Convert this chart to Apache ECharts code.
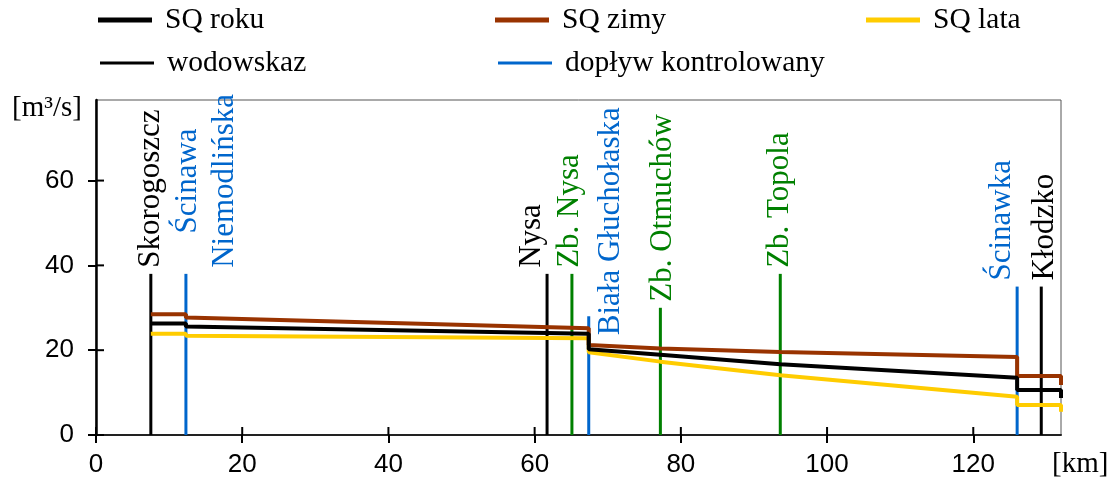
<!DOCTYPE html>
<html>
<head>
<meta charset="utf-8">
<script src="https://cdn.jsdelivr.net/npm/echarts@6/dist/echarts.min.js"></script>
<style>
html, body {margin: 0; padding: 0; background: #fff;}
#chart {width: 1118px; height: 482px;}
</style>
</head>
<body>
<div id="chart"></div>
<script>
// przepływy SQ wzdłuż biegu rzeki [km]
var kmPoints = [7.5, 12.3, 12.3, 67.4, 67.4, 77.2, 93.6, 126, 126, 132, 132];
var sqRoku   = [26.3, 26.3, 25.6, 23.9, 20.2, 18.9, 16.7, 13.5, 10.6, 10.6, 8.7];
var sqZimy   = [28.5, 28.5, 27.7, 25.2, 21.2, 20.4, 19.6, 18.4, 13.9, 13.9, 11.8];
var sqLata   = [23.9, 23.9, 23.4, 22.8, 19.5, 17.3, 14.1, 9.0, 7.1, 7.1, 5.5];

// wodowskazy, dopływy i zbiorniki
var stationNames = ['Skorogoszcz', 'Ścinawa\nNiemodlińska', 'Nysa', 'Zb. Nysa', 'Biała Głuchołaska',
                    'Zb. Otmuchów', 'Zb. Topola', 'Ścinawka', 'Kłodzko'];
var stationKm   = [7.5, 12.3, 61.7, 65.1, 67.4, 77.2, 93.6, 126.0, 129.3];
var stationTop  = [38, 38, 38, 38, 28, 30, 38, 35, 35];
var stationType = ['wodowskaz', 'dopływ', 'wodowskaz', 'zbiornik', 'dopływ',
                   'zbiornik', 'zbiornik', 'dopływ', 'wodowskaz'];

var xTicks = [0, 20, 40, 60, 80, 100, 120];
var yTicks = [0, 20, 40, 60];

var SERIF = '"Liberation Serif", "Times New Roman", serif';
var SANS = '"Liberation Sans", Arial, sans-serif';
var LABEL_SIZE = 31;
var LINE_H = 37;
var TICK_IN = 8;

// przesunięcia podpisów względem linii
var labelNudge = {
  'Ścinawa\nNiemodlińska': {dx: 2},
  'Nysa': {dx: -15},
  'Zb. Nysa': {dx: -2},
  'Biała Głuchołaska': {dx: 22, gap: -19},
  'Zb. Otmuchów': {dx: 2},
  'Ścinawka': {dx: -15},
  'Kłodzko': {dx: 4}
};

var ctx = document.createElement('canvas').getContext('2d');
ctx.font = LABEL_SIZE + 'px ' + SERIF;
function textLen(s) {
  return Math.max.apply(null, s.split('\n').map(function (t) { return ctx.measureText(t).width; }));
}

function pairs(ys) {
  return kmPoints.map(function (x, i) { return [x, ys[i]]; });
}

function stationData(type) {
  var out = [];
  for (var i = 0; i < stationKm.length; i++) {
    if (stationType[i] === type) out.push([stationKm[i], stationTop[i], i]);
  }
  return out;
}

function drawStation(color) {
  return function (params, api) {
    var i = api.value(2);
    var name = stationNames[i];
    var base = api.coord([api.value(0), 0]);
    var top = api.coord([api.value(0), api.value(1)]);
    var n = labelNudge[name] || {};
    var dx = n.dx || 0;
    var gap = n.gap != null ? n.gap : 6;
    var len = textLen(name);
    return {
      type: 'group',
      children: [
        {type: 'line', shape: {x1: base[0], y1: base[1], x2: top[0], y2: top[1]},
         style: {stroke: color, lineWidth: 3}},
        {type: 'text', x: top[0] + dx - LINE_H / 2, y: top[1] - gap - len / 2, rotation: Math.PI / 2,
         style: {text: name, fill: color, font: LABEL_SIZE + 'px ' + SERIF,
                 align: 'center', verticalAlign: 'top', lineHeight: LINE_H}}
      ]
    };
  };
}

// kreski osi skierowane do wnętrza (oś ma kreski na zewnątrz)
var innerTickData = xTicks.map(function (v) { return [v, 0, 0]; })
  .concat(yTicks.map(function (v) { return [0, v, 1]; }));
function drawInnerTick(params, api) {
  var p = api.coord([api.value(0), api.value(1)]);
  var vertical = api.value(2) === 0;
  return {
    type: 'line',
    shape: vertical ? {x1: p[0], y1: p[1], x2: p[0], y2: p[1] - TICK_IN}
                    : {x1: p[0], y1: p[1], x2: p[0] + TICK_IN, y2: p[1]},
    style: {stroke: '#000', lineWidth: 2}
  };
}

function legendAt(name, left, centerY, thick) {
  return {
    data: [name], left: left, top: centerY - 15, padding: 0,
    itemWidth: 54, itemHeight: thick, icon: 'rect',
    textStyle: {fontFamily: SERIF, fontSize: 29.5, color: '#000', lineHeight: 30, padding: [0, 0, 0, 8]}
  };
}

var tickStyle = {color: '#000', width: 2};

var chart = echarts.init(document.getElementById('chart'));
var option = {
  animation: false,
  legend: [
    legendAt('SQ roku', 98, 20, 5),
    legendAt('SQ zimy', 495, 20, 5),
    legendAt('SQ lata', 866, 20, 5),
    legendAt('wodowskaz', 100, 63, 3),
    legendAt('dopływ kontrolowany', 498, 63, 3)
  ],
  grid: {left: 96, right: 57, top: 100, bottom: 47, show: true, borderColor: '#555', borderWidth: 1},
  xAxis: {
    type: 'value', min: 0, max: 132, interval: 20,
    axisLine: {show: true, lineStyle: {color: '#222', width: 2}},
    axisTick: {show: true, length: 8, lineStyle: tickStyle, customValues: xTicks},
    axisLabel: {customValues: xTicks, fontFamily: SANS, fontSize: 26, color: '#000', margin: 17},
    splitLine: {show: false}
  },
  yAxis: {
    type: 'value', min: 0, max: 79, interval: 20,
    axisLine: {show: true, lineStyle: {color: '#000', width: 2.5}},
    axisTick: {show: true, length: 8, lineStyle: tickStyle, customValues: yTicks},
    axisLabel: {customValues: yTicks, fontFamily: SANS, fontSize: 26, color: '#000', margin: 22},
    splitLine: {show: false}
  },
  graphic: [
    {type: 'text', x: 12, y: 108, style: {text: '[m³/s]', font: '29px ' + SERIF, fill: '#000', verticalAlign: 'middle'}},
    {type: 'text', x: 1052, y: 464, style: {text: '[km]', font: '29px ' + SERIF, fill: '#000', verticalAlign: 'middle'}}
  ],
  series: [
    {name: 'wodowskaz', type: 'custom', z: 1, itemStyle: {color: '#000'},
     renderItem: drawStation('#000'), data: stationData('wodowskaz'), encode: {x: 0, y: 1}},
    {name: 'dopływ kontrolowany', type: 'custom', z: 1, itemStyle: {color: '#0066cc'},
     renderItem: drawStation('#0066cc'), data: stationData('dopływ'), encode: {x: 0, y: 1}},
    {name: 'zbiornik', type: 'custom', z: 1, itemStyle: {color: '#008000'},
     renderItem: drawStation('#008000'), data: stationData('zbiornik'), encode: {x: 0, y: 1}},
    {name: 'SQ lata', type: 'line', symbol: 'none', clip: false, itemStyle: {color: '#ffcc00'},
     lineStyle: {color: '#ffcc00', width: 4}, data: pairs(sqLata)},
    {name: 'SQ zimy', type: 'line', symbol: 'none', clip: false, itemStyle: {color: '#993300'},
     lineStyle: {color: '#993300', width: 4}, data: pairs(sqZimy)},
    {name: 'SQ roku', type: 'line', symbol: 'none', clip: false, itemStyle: {color: '#000'},
     lineStyle: {color: '#000', width: 4}, data: pairs(sqRoku)},
    {name: 'ticks', type: 'custom', silent: true, z: 3, renderItem: drawInnerTick,
     data: innerTickData, encode: {x: 0, y: 1}}
  ]
};
chart.setOption(option);
</script>
</body>
</html>
